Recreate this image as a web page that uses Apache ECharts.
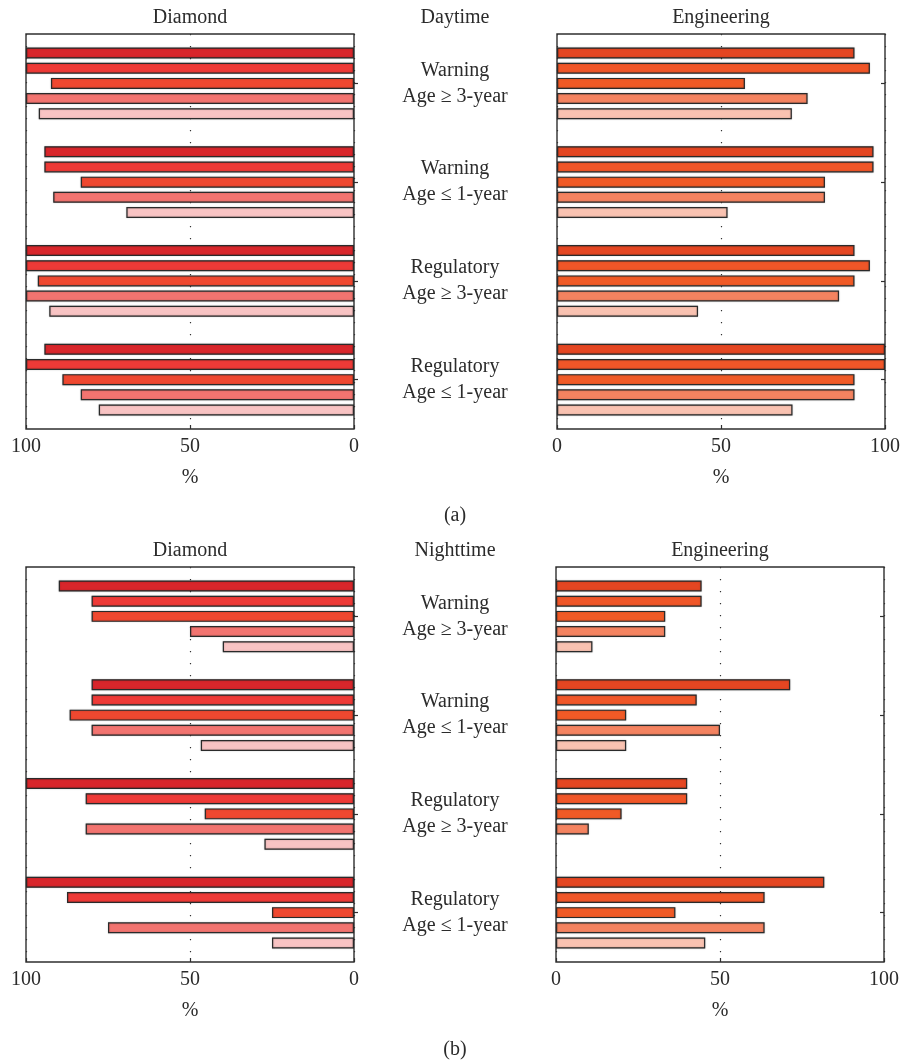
<!DOCTYPE html>
<html>
<head>
<meta charset="utf-8">
<script src="https://cdn.jsdelivr.net/npm/echarts@6/dist/echarts.min.js"></script>
<style>
  html, body { margin: 0; padding: 0; background: #fff; }
  #chart { width: 900px; height: 1064px; }
</style>
</head>
<body>
<div id="chart"></div>
<script>
// Sign groups (top to bottom)
const groups = [
  'Warning\nAge \u2265 3-year',
  'Warning\nAge \u2264 1-year',
  'Regulatory\nAge \u2265 3-year',
  'Regulatory\nAge \u2264 1-year'
];
const xTicks = [0, 50, 100];

// Percentages: one row per bar within a group (top bar first), one column per group
const dayDiamond = [
  [100, 94.4, 100, 94.4],
  [100, 94.4, 100, 100],
  [92.4, 83.3, 96.4, 88.9],
  [100, 91.7, 100, 83.3],
  [96.1, 69.4, 92.9, 77.8]
];
const dayEngineering = [
  [90.7, 96.5, 90.7, 100],
  [95.4, 96.5, 95.4, 100],
  [57.3, 81.7, 90.7, 90.7],
  [76.4, 81.7, 86.0, 90.7],
  [71.6, 52.0, 43.0, 71.8]
];
const nightDiamond = [
  [90, 80, 100, 100],
  [80, 80, 81.8, 87.5],
  [80, 86.7, 45.5, 25],
  [50, 80, 81.8, 75],
  [40, 46.7, 27.3, 25]
];
const nightEngineering = [
  [44.4, 71.4, 40, 81.8],
  [44.4, 42.9, 40, 63.6],
  [33.3, 21.4, 20, 36.4],
  [33.3, 50, 10, 63.6],
  [11.1, 21.4, 0, 45.5]
];

const diamondColors = ['#d8262b', '#ee3a37', '#ef4830', '#f27470', '#f8c3c3'];
const engineeringColors = ['#e44622', '#f05628', '#f05a26', '#f48360', '#f9c2b1'];

const FONT = 'Liberation Serif';
const INK = '#2b2b2b';

const panels = [
  { data: dayDiamond, colors: diamondColors, grid: { left: 26, top: 34, width: 328, height: 395 }, reversed: true },
  { data: dayEngineering, colors: engineeringColors, grid: { left: 557, top: 34, width: 328, height: 395 }, reversed: false },
  { data: nightDiamond, colors: diamondColors, grid: { left: 26, top: 567, width: 328, height: 395 }, reversed: true },
  { data: nightEngineering, colors: engineeringColors, grid: { left: 556, top: 567, width: 328, height: 395 }, reversed: false }
];

const grid = [], xAxis = [], yAxis = [], series = [];

panels.forEach((p, i) => {
  grid.push(Object.assign({
    show: true, borderColor: '#2f2f2f', borderWidth: 1.4, backgroundColor: 'transparent',
    containLabel: false, outerBoundsMode: 'none'
  }, p.grid));

  xAxis.push({
    type: 'value', gridIndex: i, min: xTicks[0], max: xTicks[xTicks.length - 1], interval: 50,
    inverse: p.reversed, position: 'bottom',
    name: '%', nameLocation: 'middle', nameGap: 39,
    nameTextStyle: { fontFamily: FONT, fontSize: 20, color: INK },
    axisLine: { show: false },
    axisTick: { show: true, inside: true, length: 4, lineStyle: { color: '#2f2f2f', width: 1.2 } },
    axisLabel: { margin: 8, fontFamily: FONT, fontSize: 20, color: INK, hideOverlap: false },
    splitLine: { show: true, lineStyle: { color: '#333', width: 1.2, type: [1.2, 10.8] } }
  });

  // Left-side and right-side category axes, both ticked at the group centres
  const labelOnRight = p.reversed;
  ['left', 'right'].forEach(pos => {
    const showLabels = labelOnRight && pos === 'right';
    yAxis.push({
      type: 'category', gridIndex: i, data: groups, inverse: true, position: pos,
      axisLine: { show: false },
      axisTick: { show: true, inside: true, alignWithLabel: true, length: 4, lineStyle: { color: '#2f2f2f', width: 1.2 } },
      axisLabel: showLabels
        ? { show: true, align: 'center', margin: 101, fontFamily: FONT, fontSize: 20, lineHeight: 26, color: INK }
        : { show: false },
      splitLine: { show: false }
    });
  });

  const yIdx = labelOnRight ? 2 * i + 1 : 2 * i;
  p.data.forEach((vals, s) => {
    series.push({
      type: 'bar', xAxisIndex: i, yAxisIndex: yIdx,
      // a zero share draws no bar at all
      data: vals.map(v => v === 0 ? { value: 0, itemStyle: { borderWidth: 0, shadowBlur: 0 } } : v),
      barWidth: 11, barGap: '38%',
      itemStyle: {
        color: p.colors[s], borderColor: '#2a2a2a', borderWidth: 1.2,
        shadowColor: 'rgba(0,0,0,0.3)', shadowBlur: 1.5
      },
      emphasis: { disabled: true },
      animation: false
    });
  });
});

const textStyle = (x, y, t) => ({
  type: 'text', x: x, y: y,
  style: { text: t, fontFamily: FONT, fontSize: 20, fill: INK, align: 'center', verticalAlign: 'middle' }
});

const chart = echarts.init(document.getElementById('chart'), null, { renderer: 'canvas' });
chart.setOption({
  backgroundColor: '#fff',
  animation: false,
  grid, xAxis, yAxis, series,
  graphic: [
    textStyle(190, 18, 'Diamond'),
    textStyle(455, 18, 'Daytime'),
    textStyle(721, 18, 'Engineering'),
    textStyle(455, 516, '(a)'),
    textStyle(190, 551, 'Diamond'),
    textStyle(455, 551, 'Nighttime'),
    textStyle(720, 551, 'Engineering'),
    textStyle(455, 1050, '(b)')
  ]
});
</script>
</body>
</html>
